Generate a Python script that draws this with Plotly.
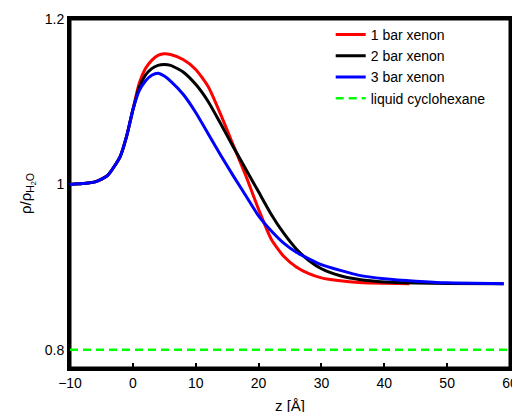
import plotly.graph_objects as go

# z positions [Å] and densities relative to bulk water
z_1bar = [-10, -8, -6, -4, -2, -1, 0, 1, 2, 3, 4, 5, 6, 8, 10, 12, 14, 16, 18, 20,
          22, 24, 26, 28, 30, 33, 36, 40, 44]
rho_1bar = [1.000, 1.001, 1.003, 1.011, 1.034, 1.058, 1.090, 1.122, 1.140, 1.150, 1.156, 1.158,
            1.157, 1.151, 1.139, 1.118, 1.084, 1.047, 1.010, 0.970, 0.934, 0.913, 0.900,
            0.892, 0.887, 0.8835, 0.8815, 0.8805, 0.880]

z_2bar = [-10, -8, -6, -4, -2, -1, 0, 1, 2, 3, 4, 5, 6, 8, 10, 12, 14, 16, 18, 20, 22, 24, 26,
          28, 30, 33, 36, 40, 45, 50, 59]
rho_2bar = [1.000, 1.001, 1.003, 1.011, 1.034, 1.058, 1.090, 1.117, 1.132, 1.140, 1.144, 1.145,
            1.144, 1.136, 1.121, 1.100, 1.073, 1.045, 1.018, 0.991, 0.964, 0.941, 0.922, 0.908,
            0.898, 0.8895, 0.885, 0.882, 0.8808, 0.8803, 0.880]

z_3bar = [-10, -8, -6, -4, -2, -1, 0, 1, 2, 3, 4, 5, 6, 8, 10, 12, 14, 16, 18, 20, 22,
          24, 26, 28, 30, 33, 36, 40, 45, 50, 59]
rho_3bar = [1.000, 1.001, 1.003, 1.011, 1.034, 1.058, 1.090, 1.113, 1.125, 1.132, 1.1345, 1.131,
            1.125, 1.109, 1.087, 1.061, 1.035, 1.010, 0.986, 0.962, 0.944, 0.929, 0.918,
            0.910, 0.903, 0.896, 0.890, 0.886, 0.883, 0.881, 0.880]

z_cyclohexane = [-10, 60]
rho_cyclohexane = [0.8, 0.8]

x_ticks = [-10, 0, 10, 20, 30, 40, 50, 60]
y_ticks = [0.8, 1.0, 1.2]
y_tick_labels = ["0.8", "1", "1.2"]

FONT = "Liberation Sans, Arial, Helvetica, sans-serif"

fig = go.Figure()
fig.add_trace(go.Scatter(x=z_1bar, y=rho_1bar, mode="lines", name="1 bar xenon",
                         line=dict(color="#ff0000", width=3, shape="spline", smoothing=0.6)))
fig.add_trace(go.Scatter(x=z_2bar, y=rho_2bar, mode="lines", name="2 bar xenon",
                         line=dict(color="#000000", width=3, shape="spline", smoothing=0.6)))
fig.add_trace(go.Scatter(x=z_3bar, y=rho_3bar, mode="lines", name="3 bar xenon",
                         line=dict(color="#0000ff", width=3, shape="spline", smoothing=0.6)))
fig.add_trace(go.Scatter(x=z_cyclohexane, y=rho_cyclohexane, mode="lines", name="liquid cyclohexane",
                         line=dict(color="#00ff00", width=2.5, dash="8px,5px")))

axis_common = dict(layer="below traces",
                   showline=True, linecolor="#000000", linewidth=3, mirror=True,
                   ticks="inside", ticklen=5, tickwidth=2, tickcolor="#000000",
                   showgrid=False, zeroline=False,
                   tickfont=dict(family=FONT, size=14, color="black"))

fig.update_xaxes(range=[-10, 60], tickvals=x_ticks,
                 title=dict(text="z [Å]", font=dict(family=FONT, size=15, color="black"), standoff=11),
                 **axis_common)
fig.update_yaxes(range=[0.778, 1.2], tickvals=y_ticks, ticktext=y_tick_labels,
                 title=dict(text="ρ/ρ<sub>H<sub>2</sub>O</sub>", font=dict(family=FONT, size=15, color="black"),
                            standoff=10),
                 **axis_common)

# axes frame (box around the plotting area)
fig.add_shape(type="rect", xref="paper", yref="paper", x0=0, x1=1, y0=0, y1=1,
              line=dict(color="#000000", width=3), layer="below")

fig.update_layout(
    width=520, height=412,
    margin=dict(l=62, r=18, t=11, b=52, autoexpand=False),
    plot_bgcolor="white", paper_bgcolor="white",
    font=dict(family=FONT, size=14, color="black"),
    legend=dict(x=0.5925, xanchor="left", y=1.0, yanchor="top", bgcolor="rgba(0,0,0,0)",
                font=dict(family=FONT, size=14, color="black"), tracegroupgap=0,
                itemwidth=30),
    showlegend=True,
)

fig.write_html("out.html")
